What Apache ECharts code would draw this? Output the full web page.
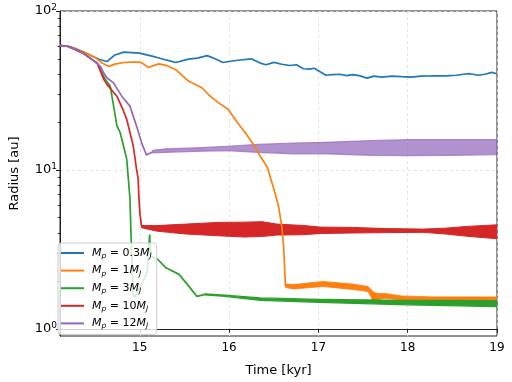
<!DOCTYPE html>
<html><head><meta charset="utf-8">
<script src="https://cdn.jsdelivr.net/npm/echarts@6.0.0/dist/echarts.min.js"></script>
<style>html,body{margin:0;padding:0;background:#fff}#c{width:512px;height:382px}</style>
</head><body><div id="c"></div>
<script>
// ---- data (time in kyr, radius in au) ----
const seriesNames = ['Mp = 0.3MJ', 'Mp = 1MJ', 'Mp = 3MJ', 'Mp = 10MJ', 'Mp = 12MJ'];
const massLabels = ['0.3', '1', '3', '10', '12'];
const colors = ['#1f77b4', '#ff7f0e', '#2ca02c', '#d62728', '#9467bd'];

const blueT = [14.107,14.184,14.27,14.359,14.469,14.55,14.634,14.722,14.821,14.997,15.184,15.293,15.403,15.546,15.645,15.755,15.843,15.931,16.074,16.249,16.349,16.414,16.502,16.59,16.678,16.755,16.832,16.898,16.953,17.019,17.085,17.162,17.239,17.316,17.381,17.458,17.546,17.623,17.711,17.821,17.931,18.041,18.151,18.261,18.426,18.546,18.623,18.7,18.788,18.864,18.941,18.997];
const blueR = [60.5,60.2,58.3,55.5,51.9,49.5,48.1,52.9,55.1,54.3,51.2,49.2,47.4,49.8,50.5,52.4,50.0,47.4,48.8,50.0,47.0,45.9,47.5,46.2,45.4,45.9,43.3,43.1,43.6,41.5,39.4,39.8,40.0,39.2,39.8,39.2,37.8,38.9,38.4,38.9,38.6,38.4,38.9,39.0,39.1,39.4,40.0,40.3,39.4,40.0,41.1,40.3];

const orangeT = [14.107,14.184,14.27,14.359,14.502,14.579,14.653,14.722,14.821,14.909,14.997,15.052,15.096,15.162,15.216,15.293,15.403,15.549,15.697,15.769,15.879,15.989,16.081,16.191,16.282,16.356,16.429,16.466,16.521,16.558,16.593,16.612,16.631];
const orangeR = [60.5,60.2,58.3,55.5,51.0,47.0,44.8,46.3,47.4,47.6,47.7,46.0,44.1,45.5,46.5,45.5,42.7,36.1,32.9,29.8,26.5,24.1,20.3,16.8,14.2,12.0,10.4,8.82,6.94,5.73,4.30,3.23,1.864];
const orangeBandT = [16.631,16.722,17.052,17.381,17.557,17.59,17.623,17.667,17.745,17.932,18.293,18.657,18.997];
const orangeBandHi = [1.912,1.899,1.983,1.912,1.845,1.767,1.693,1.669,1.669,1.610,1.587,1.587,1.587];
const orangeBandLo = [1.819,1.780,1.845,1.767,1.718,1.576,1.445,1.531,1.554,1.520,1.510,1.520,1.499];

const greenT = [14.107,14.184,14.227,14.359,14.447,14.524,14.615,14.67,14.744,14.78,14.818,14.854,14.89,14.909,14.927,14.941,14.99,15.04,15.085,15.111,15.122,15.203,15.293,15.44,15.53,15.64,15.733];
const greenR = [60.5,60.2,59.0,54.5,50.3,47.0,37.0,33.6,18.9,17.2,14.2,11.7,6.62,2.93,1.65,1.576,1.78,2.0,2.3,3.92,2.88,2.73,2.42,2.20,1.91,1.60,1.645];
const greenBandT = [15.733,15.953,16.349,17.008,17.997,18.997];
const greenBandHi = [1.657,1.628,1.564,1.531,1.510,1.503];
const greenBandLo = [1.630,1.600,1.510,1.467,1.415,1.379];

const redT = [14.107,14.184,14.227,14.359,14.447,14.524,14.598,14.634,14.744,14.818,14.854,14.927,14.963,14.982,14.991,15.002,15.019];
const redR = [60.5,60.2,59.0,54.5,50.3,47.0,37.0,34.4,29.1,23.5,20.8,14.2,10.2,8.81,6.62,5.33,4.43];
const redBandT = [15.019,15.184,15.513,15.876,16.173,16.371,16.535,16.832,17.02,17.381,17.766,18.173,18.425,18.667,18.997];
const redBandHi = [4.46,4.46,4.557,4.67,4.69,4.72,4.557,4.47,4.363,4.345,4.27,4.24,4.30,4.41,4.51];
const redBandLo = [4.33,4.12,3.948,3.85,3.78,3.81,3.89,3.908,3.976,4.005,4.03,4.045,3.948,3.82,3.69];

const purpleT = [14.107,14.184,14.227,14.305,14.447,14.56,14.597,14.634,14.707,14.798,14.89,14.964,15.019,15.074,15.147];
const purpleR = [60.5,60.2,58.6,56.9,50.5,44.8,40.7,37.9,35.3,29.1,25.2,18.9,14.9,12.4,13.0];
const purpleBandT = [15.147,15.293,15.623,15.986,16.316,16.722,17.08,17.6,17.997,18.48,18.997];
const purpleBandHi = [13.27,13.56,13.75,14.09,14.46,14.77,14.92,15.31,15.49,15.49,15.49];
const purpleBandLo = [12.80,12.89,13.08,13.23,12.89,12.62,12.62,12.35,12.31,12.35,12.49];

const xTicks = [15, 16, 17, 18, 19];
const yMajor = [1, 10, 100];
const yMinor = [2,3,4,5,6,7,8,9,20,30,40,50,60,70,80,90];
const xMin = 14.107, xMax = 19, yMin = 0.9006, yMax = 100;

// ---- build ----
const L = Math.log10;
const pts = (T, R) => T.map((t, i) => [t, L(R[i])]);
const FONT = 'DejaVu Sans';
const LW = 1.7;

function line(name, T, R, color) {
  return { name, type: 'line', data: pts(T, R), showSymbol: false, symbol: 'none',
    lineStyle: { color, width: LW }, itemStyle: { color }, silent: true, z: 2 };
}
function band(key, T, Hi, Lo, color, opacity, sw) {
  return {
    name: key, type: 'custom', silent: true, z: 2,
    data: [[T[0], L(Lo[0])]],
    renderItem: (params, api) => {
      const top = T.map((t, i) => api.coord([t, L(Hi[i])]));
      const bot = T.map((t, i) => api.coord([t, L(Lo[i])])).reverse();
      return { type: 'polygon', shape: { points: top.concat(bot) },
        style: { fill: color, stroke: color, lineWidth: sw, opacity } };
    }
  };
}

const series = [
  line(seriesNames[0], blueT, blueR, colors[0]),
  line(seriesNames[1], orangeT, orangeR, colors[1]),
  band('orb', orangeBandT, orangeBandHi, orangeBandLo, colors[1], 1, 0.8),
  line(seriesNames[2], greenT, greenR, colors[2]),
  band('grb', greenBandT, greenBandHi, greenBandLo, colors[2], 1, 1.2),
  line(seriesNames[3], redT, redR, colors[3]),
  band('rdb', redBandT, redBandHi, redBandLo, colors[3], 1, 1),
  line(seriesNames[4], purpleT, purpleR, colors[4]),
  band('pub', purpleBandT, purpleBandHi, purpleBandLo, colors[4], 0.72, 1.2)
];

const chart = echarts.init(document.getElementById('c'), null, { renderer: 'canvas' });
chart.setOption({
  animation: false,
  backgroundColor: '#fff',
  grid: { left: 52, right: 15, top: 11, bottom: 43, show: true, borderColor: '#222', borderWidth: 1, backgroundColor: 'transparent' },
  legend: {
    data: seriesNames, orient: 'vertical', left: 58, top: 243,
    icon: 'rect', itemWidth: 23, itemHeight: 2, itemGap: 3.6,
    padding: [3, 5, 4, 3],
    backgroundColor: 'rgba(255,255,255,0.8)', borderColor: '#cccccc', borderWidth: 1, borderRadius: 3,
    formatter: n => '{i|M}{s|p}{n| = ' + massLabels[seriesNames.indexOf(n)] + '}{i|M}{s|J}',
    textStyle: {
      color: '#000', fontFamily: FONT, fontSize: 11, lineHeight: 14, padding: [0, 0, 0, 3],
      rich: {
        i: { fontStyle: 'italic', fontSize: 11, fontFamily: FONT, lineHeight: 14, color: '#000' },
        n: { fontSize: 11, fontFamily: FONT, lineHeight: 14, color: '#000' },
        s: { fontStyle: 'italic', fontSize: 7.5, fontFamily: FONT, lineHeight: 8, verticalAlign: 'bottom', color: '#000' }
      }
    }
  },
  xAxis: [{
    type: 'value', min: xMin, max: xMax,
    name: 'Time [kyr]', nameLocation: 'middle', nameGap: 28,
    nameTextStyle: { fontFamily: FONT, fontSize: 13, color: '#000' },
    axisLine: { show: true, lineStyle: { color: '#222', width: 1 } },
    axisTick: { show: true, length: 4, lineStyle: { color: '#222' }, customValues: xTicks },
    axisLabel: { customValues: xTicks, margin: 6, fontFamily: FONT, fontSize: 12, color: '#000' },
    splitLine: { show: true, lineStyle: { color: '#dddddd', type: [3, 3], width: 0.8 } }
  }],
  yAxis: [{
    type: 'value', min: L(yMin), max: L(yMax),
    name: 'Radius [au]', nameLocation: 'middle', nameGap: 39, nameRotate: 90,
    nameTextStyle: { fontFamily: FONT, fontSize: 13, color: '#000' },
    axisLine: { show: true, lineStyle: { color: '#222', width: 1 } },
    axisTick: { show: true, length: 4, lineStyle: { color: '#222' }, customValues: yMajor.map(L) },
    axisLabel: {
      customValues: yMajor.map(L), margin: 3,
      formatter: v => '{b|10}{s|' + Math.round(v) + '}',
      rich: {
        b: { fontFamily: FONT, fontSize: 13, lineHeight: 16, color: '#000' },
        s: { fontFamily: FONT, fontSize: 9, lineHeight: 10, verticalAlign: 'top', color: '#000' }
      }
    },
    splitLine: { show: true, lineStyle: { color: '#dddddd', type: [3, 3], width: 0.8 } }
  }, {
    type: 'value', min: L(yMin), max: L(yMax), position: 'left',
    axisLine: { show: false },
    axisTick: { show: true, length: 2.2, lineStyle: { color: '#222' }, customValues: yMinor.map(L) },
    axisLabel: { show: false }, splitLine: { show: false }
  }],
  series
});
</script>
</body></html>
